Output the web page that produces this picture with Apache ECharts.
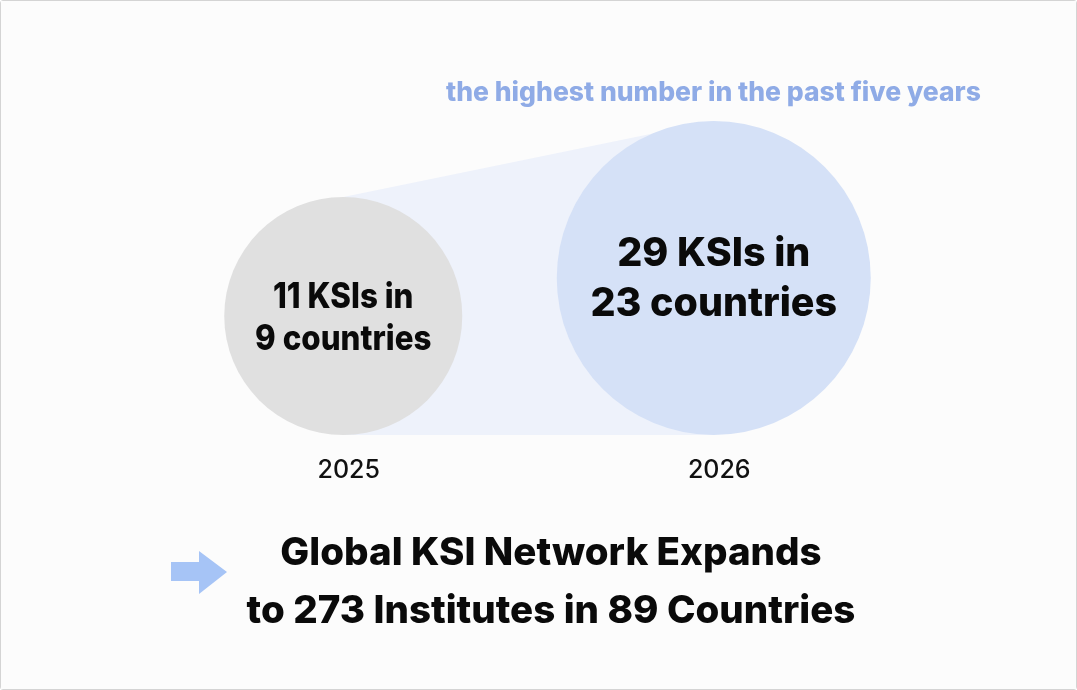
<!DOCTYPE html>
<html>
<head>
<meta charset="utf-8">
<script src="https://cdn.jsdelivr.net/npm/echarts@6/dist/echarts.min.js"></script>
<style>
html,body{margin:0;padding:0;background:#fff;}
#c{width:1075px;height:688px;border:1px solid #d4d4d4;border-radius:3px;background:#fcfcfc;}
</style>
</head>
<body>
<div id="c"></div>
<script>
const years = ['2025', '2026'];
const ksiCounts = [11, 29];
const countryCounts = [9, 23];
const headline = 'the highest number in the past five years';
const summaryLines = ['Global KSI Network Expands', 'to 273 Institutes in 89 Countries'];

const chart = echarts.init(document.getElementById('c'), null, {renderer: 'canvas'});
const radiusRange = [119, 157];
const fills = ['#e0e0e0', '#d5e1f7'];
const labelFont = [{size: 35, lh: 41.5, sx: 0.895, dy: 2.5}, {size: 40, lh: 50, sx: 0.985, dy: 1}];
const vMin = Math.min.apply(null, ksiCounts), vMax = Math.max.apply(null, ksiCounts);
function radiusOf(v) {
  return radiusRange[0] + (v - vMin) / (vMax - vMin) * (radiusRange[1] - radiusRange[0]);
}
const FONT = 'Inter, "Noto Sans", sans-serif';

chart.setOption({
  backgroundColor: '#fcfcfc',
  animation: false,
  title: [{
    text: headline,
    left: 445, top: 79, padding: 0,
    textStyle: {color: '#8fabe6', fontSize: 26.5, fontWeight: 800, fontFamily: FONT}
  }, {
    text: summaryLines.join('\n'),
    left: 550, top: 523, padding: 0, textAlign: 'center',
    textStyle: {color: '#0a0a0a', fontSize: 38.5, fontWeight: 800, lineHeight: 58, fontFamily: FONT}
  }],
  grid: {left: 157, right: 177, top: 0, bottom: 254},
  xAxis: {
    type: 'category', data: years,
    axisLine: {show: false}, axisTick: {show: false}, splitLine: {show: false},
    axisLabel: {margin: 23, color: '#111', fontSize: 25, fontWeight: 500, fontFamily: FONT, padding: [0, 0, 0, 11]}
  },
  yAxis: {type: 'value', min: 0, max: 1, show: false},
  graphic: [{
    type: 'polygon',
    shape: {points: [[170, 561], [198, 561], [198, 550], [226, 571], [198, 593], [198, 580], [170, 580]]},
    style: {fill: '#a6c4f6'}
  }],
  series: [{
    type: 'custom',
    silent: true,
    z: 1,
    data: [[0]],
    renderItem: function (params, api) {
      const a = api.coord([0, 0]);
      const b = api.coord([1, 0]);
      const ra = radiusOf(ksiCounts[0]);
      const rb = radiusOf(ksiCounts[1]);
      return {
        type: 'polygon',
        shape: {points: [[a[0], a[1] - 2 * ra], [b[0], b[1] - 2 * rb], [b[0], b[1]], [a[0], a[1]]]},
        style: {fill: '#eef2fb'}
      };
    }
  }, {
    type: 'custom',
    silent: true,
    z: 2,
    data: years.map((y, i) => [i, ksiCounts[i], countryCounts[i]]),
    renderItem: function (params, api) {
      const i = params.dataIndex;
      const p = api.coord([api.value(0), 0]);
      const r = radiusOf(api.value(1));
      const f = labelFont[i];
      return {
        type: 'group',
        children: [{
          type: 'circle',
          shape: {cx: p[0], cy: p[1] - r, r: r},
          style: {fill: fills[i]}
        }, {
          type: 'text',
          x: p[0], y: p[1] - r + f.dy,
          scaleX: f.sx,
          style: {
            text: api.value(1) + ' KSIs in\n' + api.value(2) + ' countries',
            align: 'center', verticalAlign: 'middle',
            fontSize: f.size, lineHeight: f.lh, fontWeight: 800,
            fontFamily: FONT, fill: '#0a0a0a'
          }
        }]
      };
    }
  }]
});
</script>
</body>
</html>
